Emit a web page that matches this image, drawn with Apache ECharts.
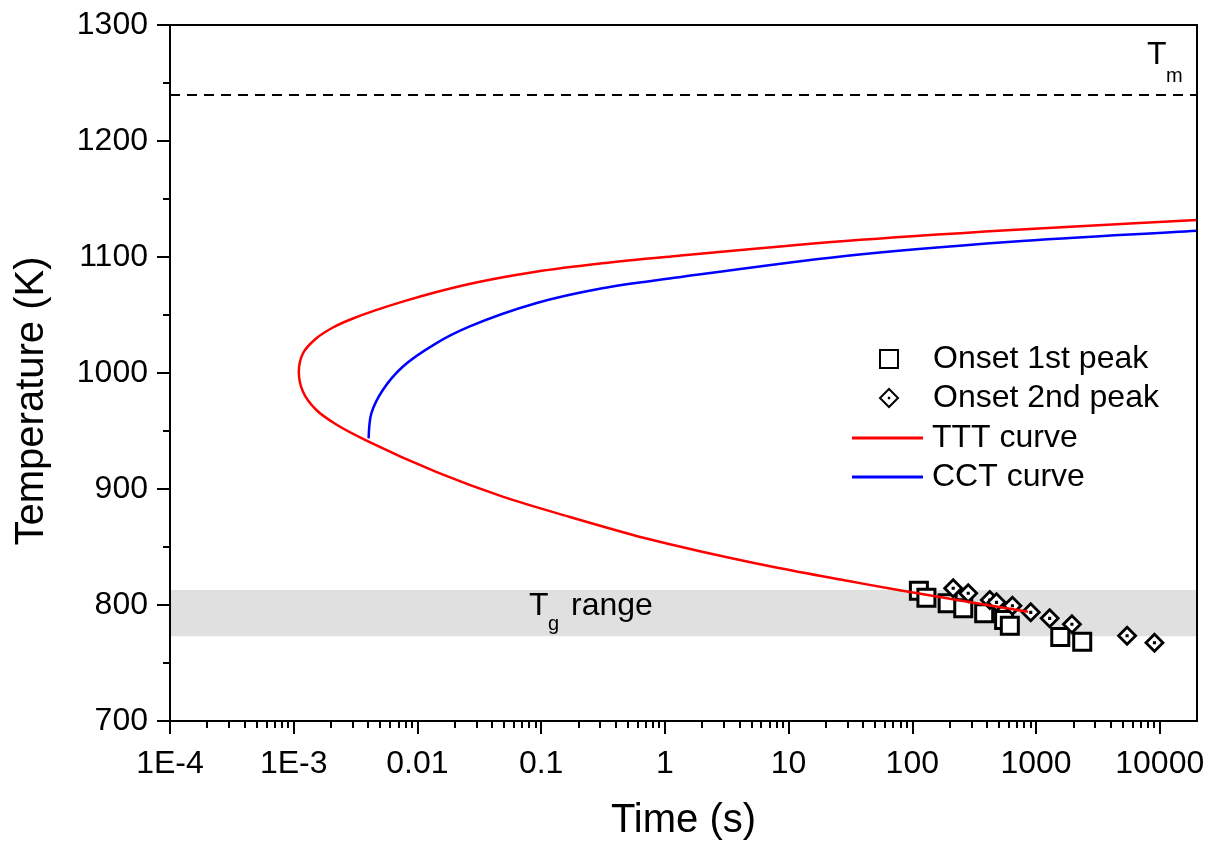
<!DOCTYPE html>
<html>
<head>
<meta charset="utf-8">
<script src="https://cdn.jsdelivr.net/npm/echarts@6/dist/echarts.min.js"></script>
<style>
  html, body { margin: 0; padding: 0; background: #fff; }
  #chart { width: 1221px; height: 851px; }
</style>
</head>
<body>
<div id="chart"></div>
<script>
// axis ticks
const xTickValues = [1e-4, 1e-3, 0.01, 0.1, 1, 10, 100, 1000, 10000]
const xTickLabels = ['1E-4', '1E-3', '0.01', '0.1', '1', '10', '100', '1000', '10000']

// measured onsets [time (s), temperature (K)]
const onset1st = [
  [113, 812.3], [130, 806.3], [193, 801.5], [258, 797.2], [381, 792.8],
  [552, 787.1], [614, 782.2], [1570, 772.4], [2362, 768.4],
]
const onset2nd = [
  [214, 814.4], [283, 810.1], [423, 804.3], [479, 802.3], [644, 799.4],
  [906, 793.7], [1289, 788.5], [1950, 783.4], [5445, 773.5], [9060, 767.5],
]

// curves
const tttCurve = [
  [20000, 1132], [632, 1123.3], [28.7, 1113.8], [1.3, 1101.1], [0.312, 1094.6],
  [0.0906, 1087.3], [0.0262, 1076.7], [0.0076, 1061.5], [0.00301, 1047],
  [0.002075, 1039.2], [0.001524, 1029.9], [0.001189, 1017], [0.0011, 1001.1],
  [0.001189, 983.9], [0.001524, 968.1], [0.00221, 955.6], [0.00403, 940.8],
  [0.01416, 914.7], [0.0488, 893.4], [0.168, 876.1], [0.698, 857.5],
  [1.88, 846.6], [7.57, 832.8], [30.5, 820.7], [77, 812.9], [861, 794.2],
]
const cctCurve = [
  [0.00403, 943.7], [0.00408, 953.7], [0.00424, 965.3], [0.00525, 985.3],
  [0.0076, 1005.4], [0.01416, 1025.6], [0.0262, 1039.9], [0.0906, 1060.1],
  [0.312, 1073], [1.3, 1082.5], [28.7, 1100.9], [632, 1113.2], [20000, 1122.7],
]

const meltingTemp = 1240
const tgRange = [773, 813]

const font = 'Liberation Sans, Arial, sans-serif'

// log minor ticks 2..9 per decade
const minorTicks = []
for (let e = -4; e < 4; e++) {
  for (let m = 2; m <= 9; m++) minorTicks.push(m * Math.pow(10, e))
}

const diamondDot = 'path://M10,0 L20,10 L10,20 L0,10 Z M9.8,9.8 L10.2,9.8 L10.2,10.2 L9.8,10.2 Z'
const legendText = { fontSize: 32, fontFamily: font, color: '#000', lineHeight: 34 }

// centripetal catmull-rom through pixel points, as bezier path data
const splinePath = pts => {
  const n = pts.length
  const get = i => {
    if (i < 0) return [2 * pts[0][0] - pts[1][0], 2 * pts[0][1] - pts[1][1]]
    if (i >= n) return [2 * pts[n - 1][0] - pts[n - 2][0], 2 * pts[n - 1][1] - pts[n - 2][1]]
    return pts[i]
  }
  const dist = (a, b) => Math.sqrt(Math.hypot(b[0] - a[0], b[1] - a[1])) || 1e-6
  let d = `M${pts[0][0]},${pts[0][1]}`
  for (let i = 0; i < n - 1; i++) {
    const p0 = get(i - 1), p1 = get(i), p2 = get(i + 1), p3 = get(i + 2)
    const d1 = dist(p0, p1), d2 = dist(p1, p2), d3 = dist(p2, p3)
    const b1 = [0, 1].map(k =>
      (d1 * d1 * p2[k] - d2 * d2 * p0[k] + (2 * d1 * d1 + 3 * d1 * d2 + d2 * d2) * p1[k]) / (3 * d1 * (d1 + d2)))
    const b2 = [0, 1].map(k =>
      (d3 * d3 * p1[k] - d2 * d2 * p3[k] + (2 * d3 * d3 + 3 * d3 * d2 + d2 * d2) * p2[k]) / (3 * d3 * (d3 + d2)))
    d += ` C${b1[0]},${b1[1]} ${b2[0]},${b2[1]} ${p2[0]},${p2[1]}`
  }
  return d
}

const curveSeries = (name, points, color) => ({
  name, type: 'custom', data: points, clip: true, z: 3,
  encode: { x: 0, y: 1 },
  itemStyle: { color },
  renderItem: (params, api) => {
    if (params.dataIndex !== 0) return null
    const px = points.map(p => api.coord(p))
    return {
      type: 'path',
      shape: { pathData: splinePath(px) },
      style: { fill: 'none', stroke: color, lineWidth: 2.5 },
    }
  },
})

const chart = echarts.init(document.getElementById('chart'))

chart.setOption({
  animation: false,
  backgroundColor: '#fff',
  grid: {
    left: 170, right: 24, top: 25, bottom: 130,
    show: true, z: 10,
    backgroundColor: 'transparent',
    borderColor: '#000', borderWidth: 2,
  },
  legend: [
    {
      orient: 'vertical', left: 879, top: 342, padding: 0,
      itemWidth: 18, itemHeight: 18, itemGap: 5,
      selectedMode: false,
      textStyle: { ...legendText, padding: [0, 0, 0, 30] },
      data: ['Onset 1st peak', 'Onset 2nd peak'],
    },
    {
      orient: 'vertical', left: 852, top: 421, padding: 0,
      itemWidth: 71, itemHeight: 3, itemGap: 5,
      selectedMode: false,
      textStyle: { ...legendText, padding: [0, 0, 0, 4] },
      data: [{ name: 'TTT curve', icon: 'rect' }, { name: 'CCT curve', icon: 'rect' }],
    },
  ],
  xAxis: [
    {
      type: 'log', logBase: 10, min: 1e-4, max: 2e4,
      name: 'Time (s)', nameLocation: 'middle', nameGap: 80,
      nameTextStyle: { fontSize: 40, fontFamily: font, color: '#000' },
      axisLine: { lineStyle: { color: '#000', width: 2 } },
      axisTick: { customValues: xTickValues, length: 13, lineStyle: { color: '#000', width: 2 } },
      axisLabel: {
        customValues: xTickValues, margin: 27,
        fontSize: 32, fontFamily: font, color: '#000',
        formatter: v => {
          const i = xTickValues.findIndex(t => Math.abs(Math.log10(t) - Math.log10(v)) < 1e-6)
          return i < 0 ? '' : xTickLabels[i]
        },
      },
      splitLine: { show: false },
    },
    {
      type: 'log', logBase: 10, min: 1e-4, max: 2e4, position: 'bottom',
      axisLine: { show: false },
      axisTick: { customValues: minorTicks, length: 7, lineStyle: { color: '#000', width: 2 } },
      axisLabel: { show: false },
      splitLine: { show: false },
    },
  ],
  yAxis: {
    type: 'value', min: 700, max: 1300, interval: 100,
    name: 'Temperature (K)', nameLocation: 'middle', nameGap: 118,
    nameTextStyle: { fontSize: 40, fontFamily: font, color: '#000', padding: [0, 56, 0, 0] },
    axisLine: { show: true, lineStyle: { color: '#000', width: 2 } },
    axisTick: { show: true, length: 13, lineStyle: { color: '#000', width: 2 } },
    minorTick: { show: true, splitNumber: 2, length: 7, lineStyle: { color: '#000', width: 2 } },
    axisLabel: { margin: 22, fontSize: 32, fontFamily: font, color: '#000', formatter: v => String(v) },
    splitLine: { show: false },
  },
  series: [
    {
      name: 'Onset 1st peak', type: 'scatter', data: onset1st,
      symbol: 'rect', symbolSize: 17,
      itemStyle: { color: '#fff', borderColor: '#000', borderWidth: 3, opacity: 1 },
      markArea: {
        silent: true,
        itemStyle: { color: '#e0e0e0' },
        data: [[{ yAxis: tgRange[0] }, { yAxis: tgRange[1] }]],
      },
    },
    {
      name: 'Onset 2nd peak', type: 'scatter', data: onset2nd,
      symbol: diamondDot, symbolSize: 17,
      itemStyle: { color: '#fff', borderColor: '#000', borderWidth: 2.8, opacity: 1 },
      markLine: {
        silent: true, symbol: ['none', 'none'],
        label: { show: false },
        lineStyle: { color: '#000', width: 2, type: [10, 7] },
        data: [{ yAxis: meltingTemp }],
      },
    },
    curveSeries('TTT curve', tttCurve, '#ff0000'),
    curveSeries('CCT curve', cctCurve, '#0000ff'),
  ],
  graphic: [
    { type: 'text', x: 1147, y: 55, z: 100, style: { text: 'T', fontSize: 32, fontFamily: font, fill: '#000', verticalAlign: 'middle' } },
    { type: 'text', x: 1166, y: 76, z: 100, style: { text: 'm', fontSize: 20, fontFamily: font, fill: '#000', verticalAlign: 'middle' } },
    { type: 'text', x: 529, y: 606, z: 100, style: { text: 'T', fontSize: 32, fontFamily: font, fill: '#000', verticalAlign: 'middle' } },
    { type: 'text', x: 548, y: 624, z: 100, style: { text: 'g', fontSize: 20, fontFamily: font, fill: '#000', verticalAlign: 'middle' } },
    { type: 'text', x: 571, y: 606, z: 100, style: { text: 'range', fontSize: 32, fontFamily: font, fill: '#000', verticalAlign: 'middle' } },
  ],
})

window.addEventListener('resize', () => chart.resize())
</script>
</body>
</html>
